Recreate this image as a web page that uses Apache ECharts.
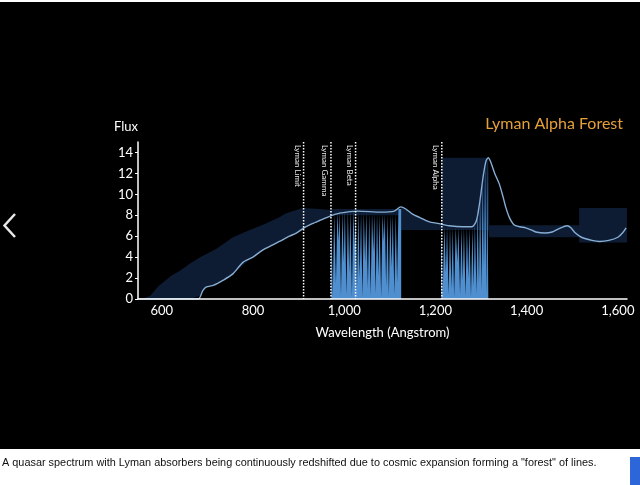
<!DOCTYPE html>
<html>
<head>
<meta charset="utf-8">
<script src="https://cdn.jsdelivr.net/npm/echarts@6/dist/echarts.min.js"></script>
<style>
  html, body { margin: 0; padding: 0; background: #ffffff; }
  #bg { position: absolute; left: 0; top: 2px; width: 640px; height: 447px; background: #000000; }
  #chart { position: absolute; left: 0; top: 0; width: 640px; height: 485px; }
</style>
</head>
<body>
<div id="bg"></div>
<div id="chart"></div>
<script>
// ---- data ----
const xTicks = [600, 800, 1000, 1200, 1400, 1600];
const yTicks = [0, 2, 4, 6, 8, 10, 12, 14];

// continuum (light blue line): [wavelength, flux]
const continuum = [
  [550,0],[680,0],[690,0.8],[698,1.15],[713,1.3],[735,1.8],[756,2.4],[778,3.5],[800,4.0],
  [822,4.7],[840,5.1],[858,5.5],[880,6.0],[895,6.3],[912,6.8],[930,7.2],[946,7.5],[968,7.9],
  [990,8.2],[1030,8.4],[1080,8.3],[1110,8.4],[1124,8.8],[1135,8.6],[1150,8.1],[1165,7.8],
  [1185,7.4],[1208,7.2],[1230,7.0],[1260,6.9],[1280,6.9],[1290,7.5],[1298,9.5],[1305,11.8],
  [1311,13.2],[1316,13.5],[1322,13.0],[1330,12.0],[1340,11.0],[1348,9.8],[1354,8.8],[1362,7.8],
  [1372,7.1],[1385,6.9],[1398,6.8],[1410,6.6],[1420,6.4],[1440,6.3],[1456,6.4],[1470,6.7],
  [1489,7.0],[1497,6.8],[1507,6.3],[1520,5.9],[1543,5.6],[1560,5.5],[1580,5.6],[1600,5.9],
  [1610,6.3],[1618,6.8]
];

// uncertainty band (dark shading): wavelength, lower, upper
const bandX    = [556,575,592,620,640,662,684,698,720,756,793,822,858,873,909,946,972, 972,1125, 1125,1135,1150,1165,1185,1210,1213, 1213,1316, 1318,1515, 1515,1620];
const bandLow  = [0,  0,  0,  0,  0,  0,  0.3,1.15,1.5,2.4,3.8,4.7,5.5,5.8,6.7,7.5,8.0, 8.0,8.0,   6.6, 6.6, 6.6, 6.6, 6.6, 6.6, 6.6,  6.6, 6.6,  5.9, 5.9,  5.4, 5.4];
const bandHigh = [0,  0.3,1.2,2.2,2.7,3.4,4.0,4.3,4.8,5.9,6.6,7.1,7.8,8.2,8.7,8.6,8.5, 8.6,8.6,   8.8, 8.6, 8.1, 7.8, 7.4, 7.2, 7.2,  13.5,13.5, 7.05,7.05, 8.7, 8.7];

// Lyman beta/gamma absorption forest: each flux level holds until the next wavelength
const forest1 = [
  [972,8.0],[975,0.2],[978,8.1],[982,1.5],[985,8.3],[988,5.5],[990,8.4],[993,0.3],[996,8.4],
  [999,3.5],[1001.5,8.5],[1005,0.4],[1008,8.5],[1011,2.5],[1013.5,8.5],[1017,0.2],[1020,8.5],
  [1023,5.0],[1025,8.4],[1028,0.8],[1031,8.4],[1034,2.0],[1037,8.3],[1040,0.2],[1043,8.3],
  [1046,3.5],[1048.5,8.3],[1052,1.0],[1055,8.2],[1058,0.3],[1061,8.2],[1064,4.5],[1066,8.2],
  [1069,0.5],[1072,8.2],[1075,2.2],[1077.5,8.1],[1081,0.2],[1084,8.1],[1087,5.5],[1089,8.1],
  [1092,1.2],[1095,8.1],[1098,0.3],[1101,8.1],[1104,3.0],[1106.5,8.1],[1110,0.4],[1113,8.2],
  [1116,1.5],[1119,8.6],[1125,0]
];

// Lyman alpha forest
const forest2 = [
  [1213,7.0],[1216,0.3],[1219.5,6.9],[1223,2.5],[1225.5,6.9],[1229,0.4],[1232,6.9],[1235,1.0],
  [1238,6.8],[1241,0.2],[1244.5,6.8],[1248,3.5],[1250.5,6.8],[1254,0.4],[1257,6.8],[1260,1.8],
  [1262.5,6.8],[1266,0.3],[1269,6.8],[1272,2.0],[1274.5,6.8],[1278,0.2],[1281,6.8],[1284,1.2],
  [1286.5,7.2],[1290,0.5],[1292.5,8.8],[1295.5,1.5],[1298,10.2],[1301,0.8],[1303.5,11.6],
  [1306.5,3.0],[1309,13.0],[1312,0.5],[1313.5,13.4],[1316,0]
];

// Lyman series markers
const markerWave = [911, 971, 1025, 1214];
const markerNames = ['Lyman Limit', 'Lyman Gamma', 'Lyman Beta', 'Lyman Alpha'];

// ---- build ----
const fmt = v => String(v).replace(/\B(?=(\d{3})+(?!\d))/g, ',');
const FONT = 'Lato, "Open Sans", sans-serif';
const FOREST = '#4f8fd0';

const chart = echarts.init(document.getElementById('chart'), null, { renderer: 'canvas' });
chart.setOption({
  backgroundColor: 'transparent',
  animation: false,
  title: {
    text: 'Lyman Alpha Forest',
    right: 12, top: 111,
    textStyle: { color: '#e5a03a', fontSize: 16, fontWeight: 'normal', fontFamily: FONT }
  },
  grid: { left: 138, right: 13, top: 142, bottom: 186 },
  xAxis: {
    type: 'value', min: 548, max: 1620,
    name: 'Wavelength (Angstrom)', nameLocation: 'middle', nameGap: 27,
    nameTextStyle: { color: '#ffffff', fontSize: 13, fontFamily: FONT },
    axisLine: { show: true, lineStyle: { color: '#ffffff', width: 1.5 } },
    axisTick: { show: false },
    splitLine: { show: false },
    axisLabel: { customValues: xTicks, formatter: fmt, color: '#ffffff', fontSize: 13, fontFamily: FONT, margin: 5 },
    z: 10
  },
  yAxis: {
    type: 'value', min: 0, max: 15,
    name: 'Flux', nameLocation: 'end', nameGap: 9,
    nameTextStyle: { color: '#ffffff', fontSize: 13, fontFamily: FONT, align: 'right' },
    axisLine: { show: true, lineStyle: { color: '#ffffff', width: 1.5 } },
    axisTick: { show: true, customValues: yTicks, length: 3, lineStyle: { color: '#ffffff' } },
    splitLine: { show: false },
    axisLabel: { customValues: yTicks, color: '#ffffff', fontSize: 13, fontFamily: FONT, margin: 5 },
    z: 10
  },
  series: [
    {
      type: 'custom', name: 'band', z: 1, silent: true,
      data: [[bandX[0], bandLow[0]]],
      renderItem: function (params, api) {
        const pts = [];
        for (let i = 0; i < bandX.length; i++) pts.push(api.coord([bandX[i], bandHigh[i]]));
        for (let i = bandX.length - 1; i >= 0; i--) pts.push(api.coord([bandX[i], bandLow[i]]));
        return { type: 'polygon', shape: { points: pts }, style: { fill: '#0e1c33' } };
      }
    },
    {
      type: 'line', name: 'continuum', data: continuum, symbol: 'none', smooth: 0.25,
      lineStyle: { color: '#87aed4', width: 1.4 }, z: 3
    },
    {
      type: 'line', name: 'forest1', data: forest1, symbol: 'none', step: 'end',
      lineStyle: { width: 0, opacity: 0 },
      areaStyle: { color: FOREST, opacity: 1 }, z: 4
    },
    {
      type: 'line', name: 'forest2', data: forest2, symbol: 'none', step: 'end',
      lineStyle: { width: 0, opacity: 0 },
      areaStyle: { color: FOREST, opacity: 1 }, z: 4
    },
    {
      type: 'custom', name: 'markers', z: 6,
      data: markerWave.map((w, i) => [w, i]),
      renderItem: function (params, api) {
        const x = api.value(0);
        const idx = api.value(1);
        const top = api.coord([x, 15]);
        const bot = api.coord([x, 0]);
        return {
          type: 'group',
          children: [
            { type: 'line', shape: { x1: top[0], y1: top[1], x2: bot[0], y2: bot[1] },
              style: { stroke: '#ffffff', lineWidth: 1.5, lineDash: [1.5, 1.5] } },
            { type: 'text', x: top[0] - 2, y: top[1] + 3, rotation: -Math.PI / 2,
              style: { text: markerNames[idx], fill: '#e8e8e8', font: '8px ' + FONT, align: 'left', verticalAlign: 'top' } }
          ]
        };
      }
    }
  ],
  graphic: [
    { type: 'polyline', shape: { points: [[15, 214], [4.5, 225.5], [15, 237]] },
      style: { stroke: '#e8e8e8', lineWidth: 2.5, fill: null } },
    { type: 'rect', shape: { x: 630, y: 457, width: 10, height: 28 }, style: { fill: '#2c66d8' } },
    { type: 'text', x: 2, y: 463,
      style: { text: 'A quasar spectrum with Lyman absorbers being continuously redshifted due to cosmic expansion forming a "forest" of lines.',
               fill: '#111111', font: '10.9px "Liberation Sans", Arial, sans-serif', verticalAlign: 'middle' } }
  ]
});
</script>
</body>
</html>
